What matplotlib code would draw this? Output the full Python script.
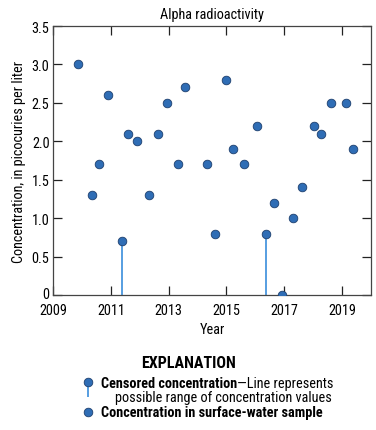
import numpy as np
import matplotlib.pyplot as plt
from matplotlib.transforms import ScaledTranslation

plt.rcParams['font.family'] = ['Roboto Condensed', 'DejaVu Sans']

# sample dates (decimal years) and alpha radioactivity, pCi/L
years = [2009.87, 2010.34, 2010.59, 2010.90, 2011.60, 2011.91, 2012.31, 2012.63,
         2012.96, 2013.34, 2013.57, 2014.34, 2014.62, 2015.00, 2015.23, 2015.60,
         2016.05, 2016.64, 2016.93, 2017.30, 2017.62, 2018.03, 2018.27, 2018.62,
         2019.15, 2019.37]
conc = [3.0, 1.3, 1.7, 2.6, 2.1, 2.0, 1.3, 2.1,
        2.5, 1.7, 2.7, 1.7, 0.8, 2.8, 1.9, 1.7,
        2.2, 1.2, 0.0, 1.0, 1.4, 2.2, 2.1, 2.5,
        2.5, 1.9]

# censored samples (less-than values)
cens_years = [2011.40, 2016.38]
cens_conc = [0.7, 0.8]

dot_color = '#2f6db5'
edge_color = '#1d3f6e'
line_color = '#3a8ddb'
fs = 10.3

W, H = 376, 431
fig = plt.figure(figsize=(W / 100, H / 100), dpi=100)
ax = fig.add_axes([53 / W, 1 - 296 / H, 318 / W, 269 / H])

ax.vlines(cens_years, 0, cens_conc, color=line_color, lw=1.2, zorder=2)
ax.plot(cens_years, cens_conc, 'o', ms=6.2, mfc=dot_color, mec=edge_color, mew=0.6, zorder=3)
ax.plot(years, conc, 'o', ms=6.2, mfc=dot_color, mec=edge_color, mew=0.6, zorder=3)

ax.set_xlim(2009, 2020)
ax.set_ylim(0, 3.5)
ax.set_xticks(np.arange(2009, 2020, 2))
ax.set_yticks(np.arange(0, 3.51, 0.5))
ax.set_yticklabels(['0'] + [f'{v:.1f}' for v in np.arange(0.5, 3.51, 0.5)])
ax.tick_params(direction='in', length=6.5, width=0.9, top=True, right=True,
               labelsize=fs, color='#222222')
ax.tick_params(axis='x', pad=5.5)
ax.tick_params(axis='y', pad=2.5)
for s in ax.spines.values():
    s.set_linewidth(0.9)
    s.set_color('#444444')

# lift the "0" label a little so it clears the 2009 label
zero_lbl = ax.get_yticklabels()[0]
zero_lbl.set_transform(zero_lbl.get_transform() + ScaledTranslation(0, 2 / 72, fig.dpi_scale_trans))

ax.set_title('Alpha radioactivity', fontsize=fs, pad=6)
ax.set_xlabel('Year', fontsize=fs, labelpad=4)
ax.set_ylabel('Concentration, in picocuries per liter', fontsize=fs, labelpad=4)

# explanation block, drawn in pixel coordinates
lax = fig.add_axes([0, 0, 1, 1], facecolor='none')
lax.set_xlim(0, W)
lax.set_ylim(H, 0)
lax.axis('off')
lax.text(W / 2, 364, 'EXPLANATION', ha='center', va='center', fontsize=11.5, fontweight='bold')
lax.vlines([88], 384, 398, color=line_color, lw=1.2)
lax.plot([88], [383], 'o', ms=6.2, mfc=dot_color, mec=edge_color, mew=0.6)
lax.plot([88], [413], 'o', ms=6.2, mfc=dot_color, mec=edge_color, mew=0.6)

t1 = lax.text(101, 384, 'Censored concentration', fontsize=fs, fontweight='bold', va='center')
fig.canvas.draw()
x_end = lax.transData.inverted().transform(t1.get_window_extent().p1)[0]
lax.text(x_end, 384, '\u2014Line represents', fontsize=fs, va='center')
lax.text(115, 398, 'possible range of concentration values', fontsize=fs, va='center')
lax.text(101, 413, 'Concentration in surface-water sample', fontsize=fs, fontweight='bold', va='center')

fig.savefig('out.png', dpi=100)
